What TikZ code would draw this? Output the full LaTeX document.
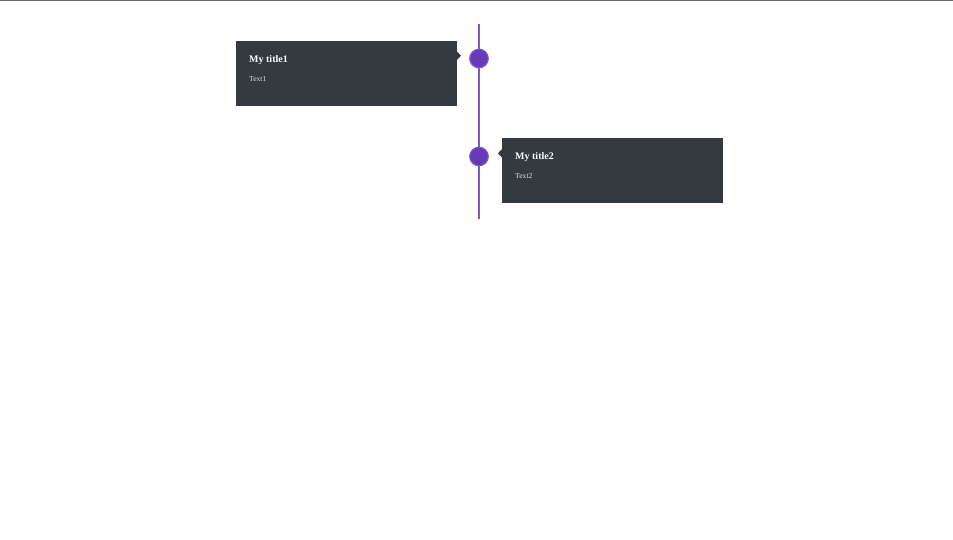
\documentclass[tikz,border=0pt]{standalone}
\usepackage{fontspec}
\setmainfont{Liberation Serif}
\definecolor{boxbg}{HTML}{343A40}
\definecolor{tline}{HTML}{7E57C2}
\definecolor{dotfill}{HTML}{673AB7}
\definecolor{topgray}{HTML}{6B6B6B}
\definecolor{bodytext}{HTML}{E6DED6}
\begin{document}
\begin{tikzpicture}[x=1pt,y=-1pt,
  card/.style={fill=boxbg, draw=none, minimum width=221pt, minimum height=64.5pt, inner sep=0pt, anchor=north west},
  dot/.style={circle, fill=dotfill, draw=tline, line width=1.2pt, minimum size=18.5pt, inner sep=0pt},
  ctitle/.style={anchor=base west, inner sep=0pt, text=white, font=\fontsize{10pt}{12pt}\selectfont\bfseries},
  cbody/.style={anchor=base west, inner sep=0pt, text=bodytext, font=\fontsize{7.6pt}{9pt}\selectfont},
  tip/.style={fill=boxbg, draw=none}]
\useasboundingbox (0,0) rectangle (953,540);
\fill[white] (0,0) rectangle (953,540);
\draw[topgray, line width=1.5pt] (0,0.5) -- (953,0.5);
% timeline
\coordinate (ltop) at (479,24);
\coordinate (lbot) at (479,219);
\draw[tline, line width=2.5pt] (ltop) -- (lbot);
% cards
\node[card] (c1) at (236,41) {};
\node[card] (c2) at (502,138) {};
\fill[tip] (457,51.5) -- (461,55.7) -- (457,60) -- cycle;
\fill[tip] (502,149) -- (498,153.3) -- (502,157.6) -- cycle;
\node[ctitle] (t1) at (249,62.7) {My title1};
\node[cbody] (b1) at (249,82) {Text1};
\node[ctitle] (t2) at (515,159.7) {My title2};
\node[cbody] (b2) at (515,179) {Text2};
% dots
\node[dot] (d1) at (479,58.5) {};
\node[dot] (d2) at (479,156.5) {};
\end{tikzpicture}
\end{document}
